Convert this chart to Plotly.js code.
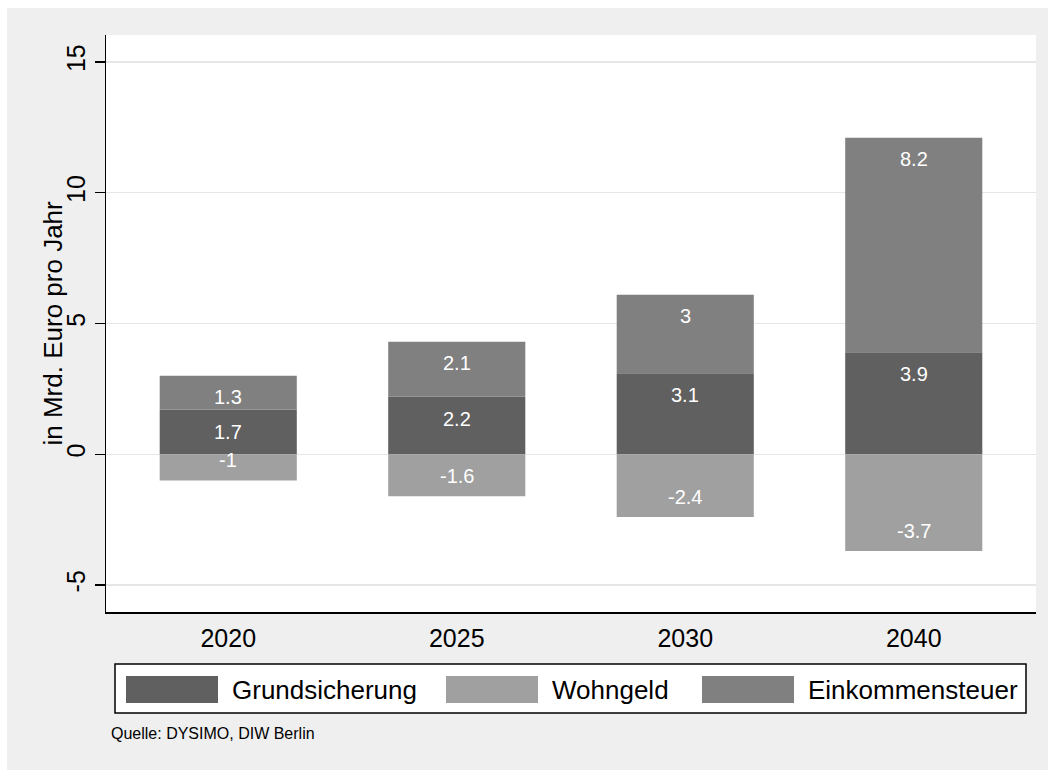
<!DOCTYPE html>
<html>
<head>
<meta charset="utf-8">
<script src="https://cdn.plot.ly/plotly-3.0.1.min.js"></script>
<style>
html,body{margin:0;padding:0;background:#ffffff;}
#chart{position:absolute;left:7px;top:8px;width:1041px;height:762px;}
</style>
</head>
<body>
<div id="chart"></div>
<script>
const years = ['2020', '2025', '2030', '2040'];
const grundsicherung = [1.7, 2.2, 3.1, 3.9];
const wohngeld = [-1, -1.6, -2.4, -3.7];
const einkommensteuer = [1.3, 2.1, 3, 8.2];
const seriesNames = ['Grundsicherung', 'Wohngeld', 'Einkommensteuer'];
const yTicks = [-5, 0, 5, 10, 15];
const source = 'Quelle: DYSIMO, DIW Berlin';
const yTitle = 'in Mrd. Euro pro Jahr';

const colGrund = '#606060', colWohn = '#a0a0a0', colEink = '#808080';
const FONT = 'Liberation Sans, Arial, Helvetica, sans-serif';

const traces = [
  {type:'bar', x:years, y:grundsicherung, name:seriesNames[0], marker:{color:colGrund, line:{width:0}}, width:0.6, hoverinfo:'none'},
  {type:'bar', x:years, y:wohngeld, name:seriesNames[1], marker:{color:colWohn, line:{width:0}}, width:0.6, hoverinfo:'none'},
  {type:'bar', x:years, y:einkommensteuer, name:seriesNames[2], marker:{color:colEink, line:{width:0}}, width:0.6, hoverinfo:'none'}
];

const annotations = [];
const lblFont = {family:FONT, size:20, color:'#ffffff'};
years.forEach((yr, i) => {
  // category axis: use serial index i for position of category yr
  annotations.push({x:i, y:grundsicherung[i], xref:'x', yref:'y', text:String(grundsicherung[i]), showarrow:false, yshift:-22, font:lblFont});
  annotations.push({x:i, y:grundsicherung[i] + einkommensteuer[i], xref:'x', yref:'y', text:String(einkommensteuer[i]), showarrow:false, yshift:-21, font:lblFont});
  annotations.push({x:i, y:wohngeld[i], xref:'x', yref:'y', text:String(wohngeld[i]), showarrow:false, yshift:20, font:lblFont});
});

// y title
annotations.push({xref:'paper', yref:'paper', x:(52-106)/930, y:0.5, text:yTitle, textangle:-90, showarrow:false, xanchor:'center', yanchor:'middle', font:{family:FONT, size:26, color:'#000'}});
// source
annotations.push({xref:'paper', yref:'paper', x:(109-106)/930, y:(612-733)/577, text:source, showarrow:false, xanchor:'left', yanchor:'middle', font:{family:FONT, size:16, color:'#000'}});

// custom legend
const shapes = [];
const px = X => (X-106)/930;
const py = Y => (612-Y)/577;
shapes.push({type:'rect', xref:'paper', yref:'paper', x0:px(115), x1:px(1026), y0:py(664), y1:py(713), fillcolor:'#ffffff', line:{color:'#000000', width:1.5}, layer:'above'});
const legItems = [
  {x0:126, x1:218, tx:230, color:colGrund, name:seriesNames[0]},
  {x0:446, x1:538, tx:550, color:colWohn, name:seriesNames[1]},
  {x0:702, x1:794, tx:806, color:colEink, name:seriesNames[2]}
];
legItems.forEach(it => {
  shapes.push({type:'rect', xref:'paper', yref:'paper', x0:px(it.x0), x1:px(it.x1), y0:py(676), y1:py(703), fillcolor:it.color, line:{width:0}, layer:'above'});
  annotations.push({xref:'paper', yref:'paper', x:px(it.tx), y:py(690), text:it.name, showarrow:false, xanchor:'left', yanchor:'middle', font:{family:FONT, size:26, color:'#000'}});
});

const layout = {
  width:1041, height:762,
  margin:{l:99, r:12, t:27, b:158, pad:0},
  paper_bgcolor:'#efefef',
  plot_bgcolor:'#ffffff',
  barmode:'relative',
  bargap:0.4,
  showlegend:false,
  font:{family:FONT, color:'#000'},
  xaxis:{
    type:'category',
    range:[-0.535, 3.535],
    showline:true, linecolor:'#000', linewidth:1.5,
    ticks:'', showgrid:false, zeroline:false,
    tickfont:{family:FONT, size:25, color:'#000'},
    ticklabelstandoff:3,
    fixedrange:true
  },
  yaxis:{
    range:[-6.03, 16.03],
    tickvals:yTicks,
    ticktext:yTicks.map(String),
    tickangle:-90,
    showline:true, linecolor:'#000', linewidth:1.5,
    ticks:'outside', ticklen:10, tickcolor:'#000', tickwidth:1.5,
    showgrid:true, gridcolor:'#e6e6e6', gridwidth:1.5,
    zeroline:false,
    tickfont:{family:FONT, size:25, color:'#000'},
    fixedrange:true
  },
  annotations:annotations,
  shapes:shapes
};

Plotly.newPlot('chart', traces, layout, {staticPlot:true, displayModeBar:false});
</script>
</body>
</html>
